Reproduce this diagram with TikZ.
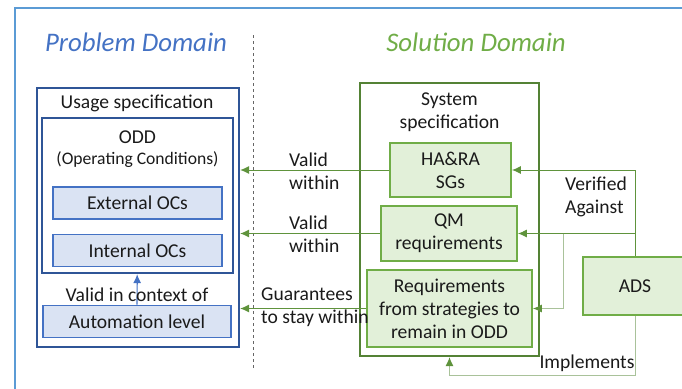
\documentclass[tikz,border=0pt]{standalone}
\usepackage{fontspec}
\setmainfont{Carlito}
\usetikzlibrary{calc,arrows.meta}
\definecolor{frameblue}{HTML}{5B9BD5}
\definecolor{probblue}{HTML}{4472C4}
\definecolor{darkblue}{HTML}{2F5597}
\definecolor{boxblue}{HTML}{DAE3F3}
\definecolor{solgreen}{HTML}{70AD47}
\definecolor{darkgreen}{HTML}{548235}
\definecolor{boxgreen}{HTML}{E2F0D9}
\definecolor{palegreen}{HTML}{A9C29A}
\definecolor{txt}{HTML}{1A1A1A}
\begin{document}
\begin{tikzpicture}[>={Latex[length=9pt,width=8pt]},x=1pt,y=-1pt,
    every node/.style={font=\fontsize{19.6}{23}\selectfont,text=txt,align=center,inner sep=0pt},
    spec/.style={draw=darkblue,line width=2.2pt},
    bluebox/.style={draw=probblue,fill=boxblue,line width=1.8pt,minimum width=169pt,minimum height=32pt},
    greenbox/.style={draw=solgreen,fill=boxgreen,line width=1.8pt},
    link/.style={->,draw=solgreen!85!black,line width=1pt},
    palelink/.style={-{Latex[length=9pt,width=8pt,color=solgreen!85!black]},draw=palegreen,line width=1pt},
    domtitle/.style={font=\fontsize{26.8}{30}\selectfont\itshape}]
        \clip(0,0)rectangle(682,388);
        \draw[frameblue,line width=2pt](15,8)rectangle(720,420);
        \node[domtitle,text=probblue](probtitle)at(136,42){Problem Domain};
        \node[domtitle,text=solgreen](soltitle)at(476,42){Solution Domain};
        \draw[gray!80!black,dashed,line width=0.9pt](253,35)--(253,370);
        \node[spec,minimum width=202pt,minimum height=259pt](usage)at(138,217.5){};
        \node(usagelbl)at(137,103){Usage specification};
        \node[spec,minimum width=191pt,minimum height=155pt](odd)at(137.5,195.5){};
        \node(oddlbl)at(137.5,137){ODD};
        \node[font=\fontsize{17.6}{20}\selectfont](oddsub)at(137.5,160){(Operating Conditions)};
        \node[bluebox](ext)at(137.5,203){External OCs};
        \node[bluebox](int)at(137.5,250.5){Internal OCs};
        \node[bluebox,minimum width=188pt](auto)at(137,321.5){Automation level};
        \draw[->,probblue,line width=1.2pt](auto)--(odd);
        \node(ctx)at(137,295){Valid in context of};
        \node[draw=darkgreen,line width=2.2pt,minimum width=179pt,minimum height=273pt](sys)at(449.5,219.5){};
        \node(syslbl)at(449.5,112){System\\specification};
        \node[greenbox,minimum width=121pt,minimum height=54pt](hara)at(450.5,170){HA\&RA\\SGs};
        \node[greenbox,minimum width=136pt,minimum height=55pt](qm)at(449,233.5){QM\\requirements};
        \node[greenbox,minimum width=165pt,minimum height=77pt](req)at(449.5,308.5){Requirements\\from strategies to\\remain in ODD};
        \node[greenbox,minimum width=104pt,minimum height=58pt](ads)at(635,286){ADS};
        \draw[link](hara)--(hara-|usage.east);
        \draw[link](qm)--(qm-|usage.east);
        \draw[link](req)--(req-|usage.east);
        \node[anchor=west,align=left](valid1)at(289,171){Valid\\within};
        \node[anchor=west,align=left](valid2)at(289,234){Valid\\within};
        \node[anchor=west,align=left](guar)at(261,307){Guarantees\\to stay within};
        \draw[link](ads.north)|-(hara.east);
        \draw[link](ads.north|-qm.east)--(qm.east);
        \coordinate(verjoin)at(563,233.5);
        \draw[palelink](verjoin)|-(req.east);
        \node[anchor=west,align=left](verif)at(565,197){Verified\\Against};
        \coordinate(implcorner)at(635,375);
        \draw[palelink](ads.south)--(implcorner)-|(sys.south);
        \node(impl)at(587,363){Implements};
    \end{tikzpicture}
\end{document}
